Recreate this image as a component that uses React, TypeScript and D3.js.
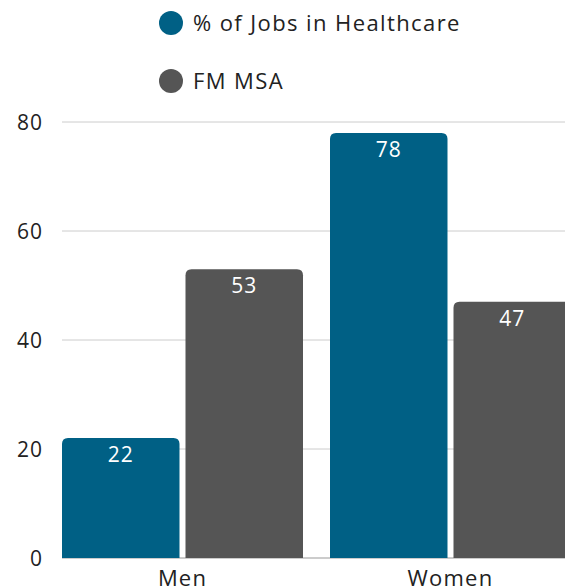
import React from "react";
import * as d3 from "d3";

const categories = ["Men", "Women"];
const seriesNames = ["% of Jobs in Healthcare", "FM MSA"];
const healthcare = [22, 78];
const fmMsa = [53, 47];
const yTicks = [0, 20, 40, 60, 80];
const colors = ["#006085", "#555555"];

const W = 565;
const H = 586;
const FONT = "'Open Sans', 'Noto Sans', sans-serif";

function topRoundedRect(x: number, y: number, w: number, h: number, r: number) {
  const rr = Math.min(r, h, w / 2);
  return `M${x},${y + h}V${y + rr}Q${x},${y} ${x + rr},${y}H${x + w - rr}Q${x + w},${y} ${x + w},${y + rr}V${y + h}Z`;
}

export default function App() {
  const y = d3.scaleLinear().domain([0, 80]).range([558, 122]);
  const x0 = d3.scaleBand<string>().domain(categories).range([48.5, 584.5]).padding(0);
  const x1 = d3
    .scaleBand<string>()
    .domain(seriesNames)
    .range([13.5, x0.bandwidth() - 13.5])
    .paddingInner(0.0486)
    .paddingOuter(0);
  const values = [healthcare, fmMsa];
  const gridLeft = 62;

  return (
    <svg
      width={W}
      height={H}
      style={{ position: "absolute", left: 0, top: 0, display: "block" }}
      fontFamily={FONT}
    >
      <rect width={W} height={H} fill="#fff" />
      {/* legend */}
      {seriesNames.map((s, i) => (
        <g key={s} transform={`translate(0, ${23 + i * 58})`}>
          <circle cx={171} cy={0} r={12} fill={colors[i]} />
          <text x={193} y={0} dy="0.36em" fontSize={22} letterSpacing={1.4} fill="#222">
            {s}
          </text>
        </g>
      ))}
      {/* grid */}
      {yTicks.map((t) => (
        <g key={t}>
          <line
            x1={gridLeft}
            x2={W}
            y1={y(t)}
            y2={y(t)}
            stroke={t === 0 ? "#999" : "#cccccc"}
            strokeWidth={1}
          />
          <text x={43} y={y(t)} dy="0.36em" textAnchor="end" fontSize={21} letterSpacing={1} fill="#222">
            {t}
          </text>
        </g>
      ))}
      {/* bars */}
      {categories.map((c, ci) => (
        <g key={c} transform={`translate(${x0(c)},0)`}>
          {seriesNames.map((s, si) => {
            const v = values[si][ci];
            const bx = x1(s)!;
            const by = y(v);
            const bw = x1.bandwidth();
            return (
              <g key={s}>
                <path d={topRoundedRect(bx, by, bw, y(0) - by, 6)} fill={colors[si]} />
                <text
                  x={bx + bw / 2}
                  y={by + 24}
                  textAnchor="middle"
                  fontSize={21}
                  letterSpacing={1}
                  fill="#fff"
                >
                  {v}
                </text>
              </g>
            );
          })}
          <text
            x={x0.bandwidth() / 2}
            y={586}
            textAnchor="middle"
            fontSize={22}
            letterSpacing={1.2}
            fill="#222"
          >
            {c}
          </text>
        </g>
      ))}
    </svg>
  );
}
